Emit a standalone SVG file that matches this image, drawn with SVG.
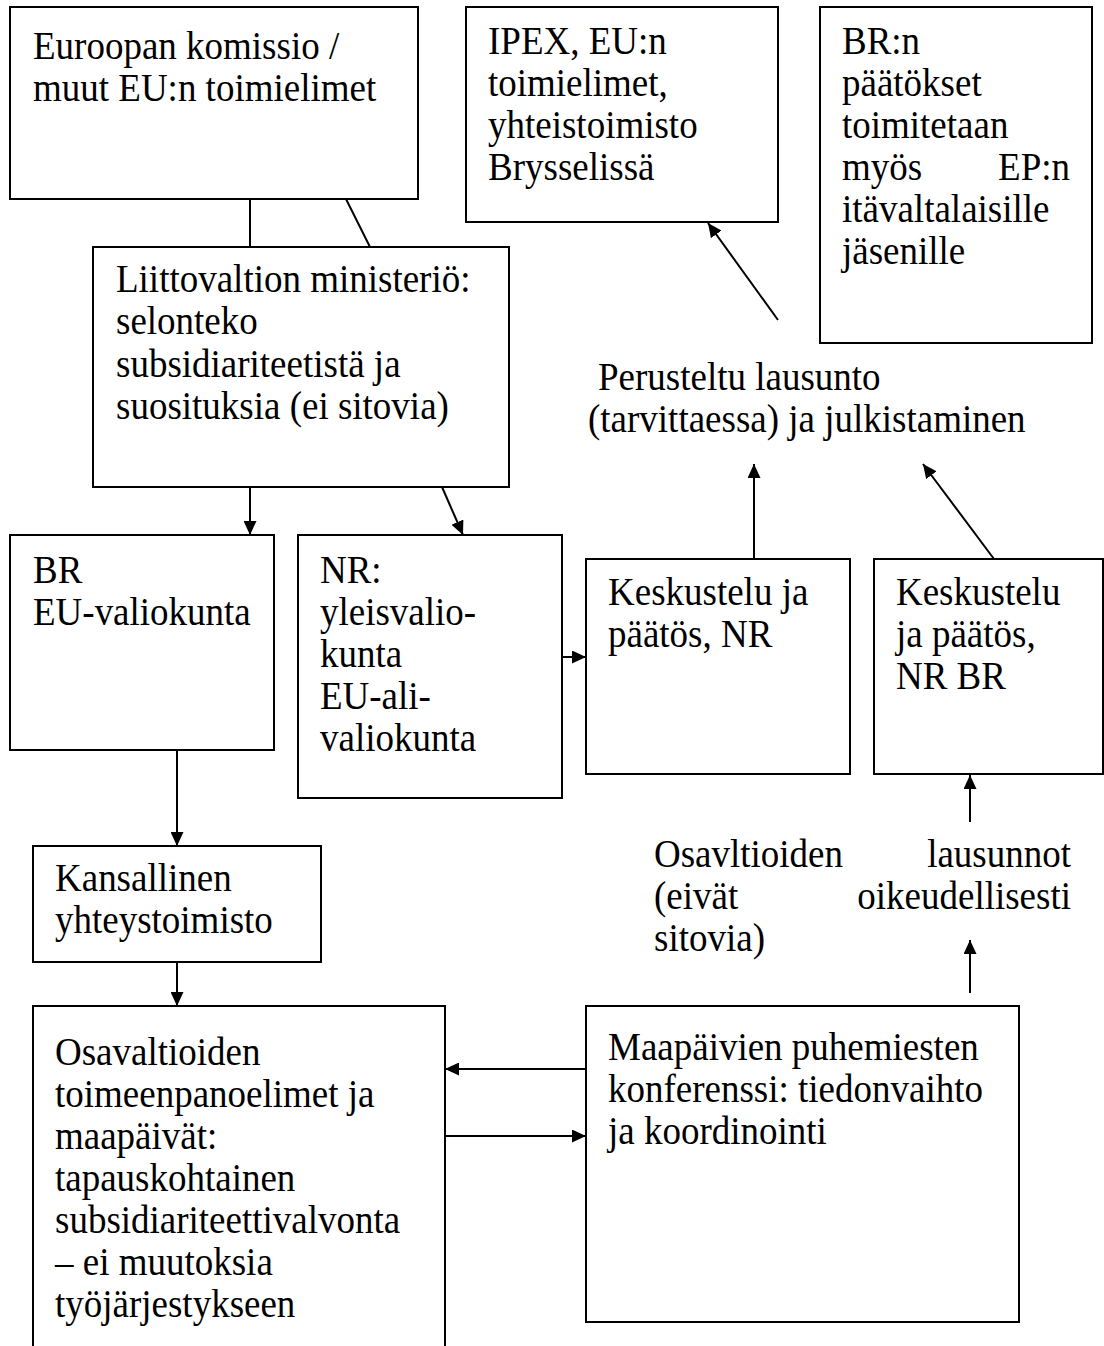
<svg xmlns="http://www.w3.org/2000/svg" width="1104" height="1346" viewBox="0 0 1104 1346">
<style>
  .box { fill: #ffffff; stroke: #000000; stroke-width: 2; }
  .t { font-family: "Liberation Serif", "Times New Roman", serif; font-size: 37px; fill: #000000; }
  .c { stroke: #000000; stroke-width: 2; fill: none; }
  .a { marker-end: url(#arrow); }
</style>
<defs>
  <marker id="arrow" markerUnits="userSpaceOnUse" markerWidth="14" markerHeight="13" refX="14" refY="6.5" orient="auto">
    <path d="M0,0 L14,6.5 L0,13 Z" fill="#000000"/>
  </marker>
</defs>
<rect width="1104" height="1346" fill="#ffffff"/>

<g id="connectors">
  <line class="c" x1="250" y1="199" x2="250" y2="247"/>
  <line class="c" x1="346" y1="199" x2="370" y2="247"/>
  <line class="c a" x1="250" y1="487" x2="250" y2="535"/>
  <line class="c a" x1="442" y1="487" x2="463" y2="535"/>
  <line class="c a" x1="562" y1="657" x2="586" y2="657"/>
  <line class="c a" x1="754" y1="559" x2="754" y2="464"/>
  <line class="c a" x1="994" y1="559" x2="923" y2="464"/>
  <line class="c a" x1="778" y1="320" x2="708" y2="223"/>
  <line class="c a" x1="970" y1="822" x2="970" y2="775"/>
  <line class="c a" x1="970" y1="993" x2="970" y2="940"/>
  <line class="c a" x1="177" y1="750" x2="177" y2="846"/>
  <line class="c a" x1="177" y1="962" x2="177" y2="1006"/>
  <line class="c a" x1="586" y1="1069" x2="445" y2="1069"/>
  <line class="c a" x1="445" y1="1136" x2="586" y2="1136"/>
</g>

<g id="node-komissio">
  <rect class="box" x="10" y="7" width="408" height="192"/>
  <text class="t" transform="matrix(1,0,0,1.08,0,-4.72)"><tspan x="33" y="59">Euroopan komissio /</tspan><tspan x="33" y="97.89">muut EU:n toimielimet</tspan></text>
</g>

<g id="node-ipex">
  <rect class="box" x="466" y="7" width="312" height="215"/>
  <text class="t" transform="matrix(1,0,0,1.08,0,-4.32)"><tspan x="488" y="54">IPEX, EU:n</tspan><tspan x="488" y="92.89">toimielimet,</tspan><tspan x="488" y="131.78">yhteistoimisto</tspan><tspan x="488" y="170.67">Brysselissä</tspan></text>
</g>

<g id="node-br-paatokset">
  <rect class="box" x="820" y="7" width="272" height="336"/>
  <text class="t" transform="matrix(1,0,0,1.08,0,-4.32)"><tspan x="842" y="54">BR:n</tspan><tspan x="842" y="92.89">päätökset</tspan><tspan x="842" y="131.78">toimitetaan</tspan><tspan x="842" y="170.67">myös</tspan><tspan x="1070" y="170.67" text-anchor="end">EP:n</tspan><tspan x="842" y="209.56">itävaltalaisille</tspan><tspan x="842" y="248.44">jäsenille</tspan></text>
</g>

<g id="node-ministerio">
  <rect class="box" x="93" y="247" width="416" height="240"/>
  <text class="t" transform="matrix(1,0,0,1.08,0,-23.36)"><tspan x="116" y="292">Liittovaltion ministeriö:</tspan><tspan x="116" y="330.89">selonteko</tspan><tspan x="116" y="370.70">subsidiariteetistä ja</tspan><tspan x="116" y="409.59">suosituksia (ei sitovia)</tspan></text>
</g>

<g id="node-perusteltu">
  <text class="t" transform="matrix(1,0,0,1.08,0,-31.2)"><tspan x="598" y="390">Perusteltu lausunto</tspan><tspan x="588" y="428.89">(tarvittaessa) ja julkistaminen</tspan></text>
</g>

<g id="node-br-eu">
  <rect class="box" x="10" y="535" width="264" height="215"/>
  <text class="t" transform="matrix(1,0,0,1.08,0,-46.64)"><tspan x="33" y="583">BR</tspan><tspan x="33" y="621.89">EU-valiokunta</tspan></text>
</g>

<g id="node-nr">
  <rect class="box" x="298" y="535" width="264" height="263"/>
  <text class="t" transform="matrix(1,0,0,1.08,0,-46.64)"><tspan x="320" y="583">NR:</tspan><tspan x="320" y="621.89">yleisvalio-</tspan><tspan x="320" y="660.78">kunta</tspan><tspan x="320" y="699.67">EU-ali-</tspan><tspan x="320" y="738.56">valiokunta</tspan></text>
</g>

<g id="node-keskustelu-nr">
  <rect class="box" x="586" y="559" width="264" height="215"/>
  <text class="t" transform="matrix(1,0,0,1.08,0,-48.4)"><tspan x="608" y="605">Keskustelu ja</tspan><tspan x="608" y="643.89">päätös, NR</tspan></text>
</g>

<g id="node-keskustelu-nrbr">
  <rect class="box" x="874" y="559" width="229" height="215"/>
  <text class="t" transform="matrix(1,0,0,1.08,0,-48.4)"><tspan x="896" y="605">Keskustelu</tspan><tspan x="896" y="643.89">ja päätös,</tspan><tspan x="896" y="682.78">NR BR</tspan></text>
</g>

<g id="node-lausunnot">
  <text class="t" transform="matrix(1,0,0,1.08,0,-69.36)"><tspan x="654" y="867">Osavltioiden</tspan><tspan x="1071" y="867" text-anchor="end">lausunnot</tspan><tspan x="654" y="905.89">(eivät</tspan><tspan x="1071" y="905.89" text-anchor="end">oikeudellisesti</tspan><tspan x="654" y="944.78">sitovia)</tspan></text>
</g>

<g id="node-kansallinen">
  <rect class="box" x="33" y="846" width="288" height="116"/>
  <text class="t" transform="matrix(1,0,0,1.08,0,-71.28)"><tspan x="55" y="891">Kansallinen</tspan><tspan x="55" y="929.89">yhteystoimisto</tspan></text>
</g>

<g id="node-osavaltioiden">
  <rect class="box" x="33" y="1006" width="412" height="360"/>
  <text class="t" transform="matrix(1,0,0,1.08,0,-85.2)"><tspan x="55" y="1065">Osavaltioiden</tspan><tspan x="55" y="1103.89">toimeenpanoelimet ja</tspan><tspan x="55" y="1142.78">maapäivät:</tspan><tspan x="55" y="1181.67">tapauskohtainen</tspan><tspan x="55" y="1220.56">subsidiariteettivalvonta</tspan><tspan x="55" y="1259.44">– ei muutoksia</tspan><tspan x="55" y="1298.33">työjärjestykseen</tspan></text>
</g>

<g id="node-maapaivien">
  <rect class="box" x="586" y="1006" width="433" height="316"/>
  <text class="t" transform="matrix(1,0,0,1.08,0,-84.8)"><tspan x="608" y="1060">Maapäivien puhemiesten</tspan><tspan x="608" y="1098.89">konferenssi: tiedonvaihto</tspan><tspan x="608" y="1137.78">ja koordinointi</tspan></text>
</g>
</svg>
